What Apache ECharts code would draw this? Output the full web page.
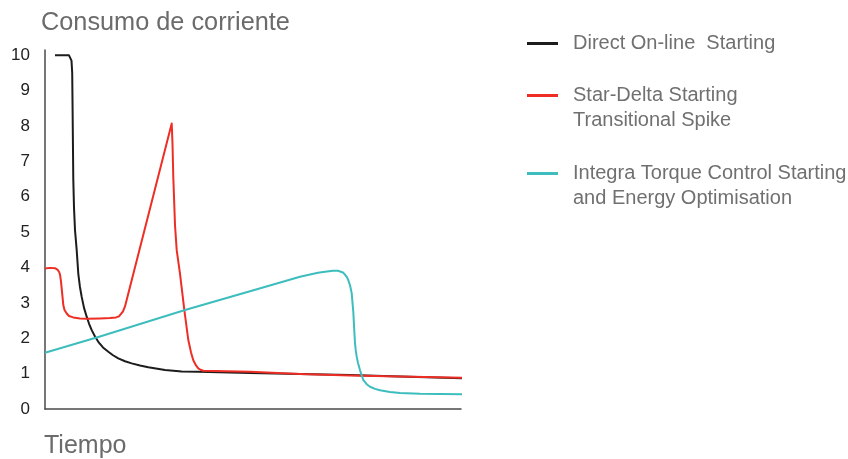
<!DOCTYPE html>
<html>
<head>
<meta charset="utf-8">
<script src="https://cdn.jsdelivr.net/npm/echarts@6/dist/echarts.min.js"></script>
<style>html,body{margin:0;padding:0;background:#fff;}#c{width:848px;height:459px;}</style>
</head>
<body>
<div id="c"></div>
<script>
// Time axis: arbitrary units 0..100 ; current in multiples of nominal
var yTicks = ['0','1','2','3','4','5','6','7','8','9','10'];
var seriesNames = ['Direct On-line  Starting', 'Star-Delta Starting\nTransitional Spike', 'Integra Torque Control Starting\nand Energy Optimisation'];

var directOnline = [
  [2.40,10],[5.77,10],[6.13,9.97],[6.37,9.85],[6.54,9.5],[6.63,8.5],[6.80,6.5],[6.97,5.7],
  [7.21,5.06],[7.62,4.49],[8.00,3.83],[8.40,3.45],[8.82,3.17],[9.38,2.86],[10.02,2.61],
  [10.60,2.41],[11.23,2.23],[12.02,2.05],[12.81,1.9],[13.94,1.74],[15.22,1.62],[16.35,1.52],
  [17.62,1.43],[19.23,1.35],[20.84,1.29],[22.84,1.23],[24.83,1.18],[28.85,1.10],[32.86,1.06],
  [36.85,1.05],[49.28,1.02],[61.30,0.99],[73.32,0.96],[85.34,0.92],[100.96,0.87]
];
var starDelta = [
  [0,3.97],[1.20,3.99],[2.40,3.98],[3.00,3.94],[3.37,3.88],[3.61,3.8],[3.85,3.6],[4.01,3.41],
  [4.21,3.17],[4.40,2.94],[4.69,2.8],[5.22,2.7],[5.77,2.63],[6.80,2.59],[8.41,2.56],[10.02,2.55],
  [13.22,2.56],[15.63,2.57],[17.07,2.59],[17.79,2.62],[18.27,2.67],[18.75,2.76],[19.23,2.9],
  [30.46,8.07],[30.65,7.5],[30.84,6.56],[31.25,5.2],[31.66,4.49],[32.45,3.83],[33.49,2.8],
  [34.45,1.95],[35.10,1.6],[35.65,1.38],[36.30,1.23],[36.85,1.15],[37.38,1.11],[38.05,1.08],
  [49.28,1.05],[61.30,0.99],[73.32,0.95],[85.34,0.92],[100.48,0.88]
];
var integra = [
  [0,1.59],[13.22,2.05],[33.65,2.8],[49.28,3.33],[61.30,3.74],[63.70,3.8],[65.63,3.85],
  [67.31,3.88],[69.23,3.91],[70.43,3.91],[71.63,3.86],[72.12,3.8],[72.60,3.72],[72.91,3.64],
  [73.32,3.5],[73.73,3.27],[73.92,3.0],[74.11,2.75],[74.33,2.25],[74.52,1.86],[74.71,1.65],
  [74.93,1.48],[75.24,1.3],[75.72,1.1],[76.08,0.97],[76.51,0.82],[77.33,0.7],[78.13,0.63],
  [79.33,0.57],[80.53,0.53],[82.93,0.48],[85.34,0.45],[90.14,0.43],[100.24,0.42]
];
var colors = ['#1c1c1c', '#ee2e24', '#3dbdbd'];

var chart = echarts.init(document.getElementById('c'));
var font = '"Liberation Sans", Arial, Helvetica, sans-serif';
function legendFor(i, top, text) {
  return {
    data: [seriesNames[i]],
    left: 527, top: top, orient: 'vertical', padding: 0,
    icon: 'rect', itemWidth: 31, itemHeight: 3,
    selectedMode: false,
    formatter: function () { return text; },
    textStyle: { fontFamily: font, fontSize: 20, color: '#707070', lineHeight: 25, padding: [0,0,0,10] }
  };
}
chart.setOption({
  animation: false,
  color: colors,
  title: [
    { text: 'Consumo de corriente', left: 41, top: 11, padding: 0,
      textStyle: { fontFamily: font, fontSize: 25.3, fontWeight: 'normal', color: '#6b6b6b' } },
    { text: 'Tiempo', left: 44, top: 434, padding: 0,
      textStyle: { fontFamily: font, fontSize: 25, fontWeight: 'normal', color: '#6b6b6b' } }
  ],
  legend: [
    legendFor(0, 31, seriesNames[0]),
    legendFor(1, 58, '\n' + seriesNames[1]),
    legendFor(2, 136, '\n' + seriesNames[2])
  ],
  grid: { left: 45, right: 387, top: 50, bottom: 50, containLabel: false },
  xAxis: {
    type: 'value', min: 0, max: 100,
    axisLine: { show: true, onZero: false, lineStyle: { color: '#4a4a4a', width: 1.5 } },
    axisTick: { show: false }, axisLabel: { show: false }, splitLine: { show: false }
  },
  yAxis: {
    type: 'value', min: 0, max: 10.15, interval: 1,
    axisLine: { show: true, lineStyle: { color: '#4a4a4a', width: 1.5 } },
    axisTick: { show: false }, splitLine: { show: false },
    axisLabel: {
      margin: 15, fontFamily: font, fontSize: 17, color: '#222',
      formatter: function (v) { var i = Math.round(v); return Math.abs(v - i) < 1e-6 ? yTicks[i] : ''; }
    }
  },
  series: [
    { name: seriesNames[0], type: 'line', data: directOnline, showSymbol: false, clip: false,
      lineStyle: { width: 2, color: colors[0], join: 'round' }, z: 2 },
    { name: seriesNames[1], type: 'line', data: starDelta, showSymbol: false, clip: false,
      lineStyle: { width: 2, color: colors[1], join: 'round' }, z: 3 },
    { name: seriesNames[2], type: 'line', data: integra, showSymbol: false, clip: false,
      lineStyle: { width: 2, color: colors[2], join: 'round' }, z: 4 }
  ]
});
</script>
</body>
</html>
